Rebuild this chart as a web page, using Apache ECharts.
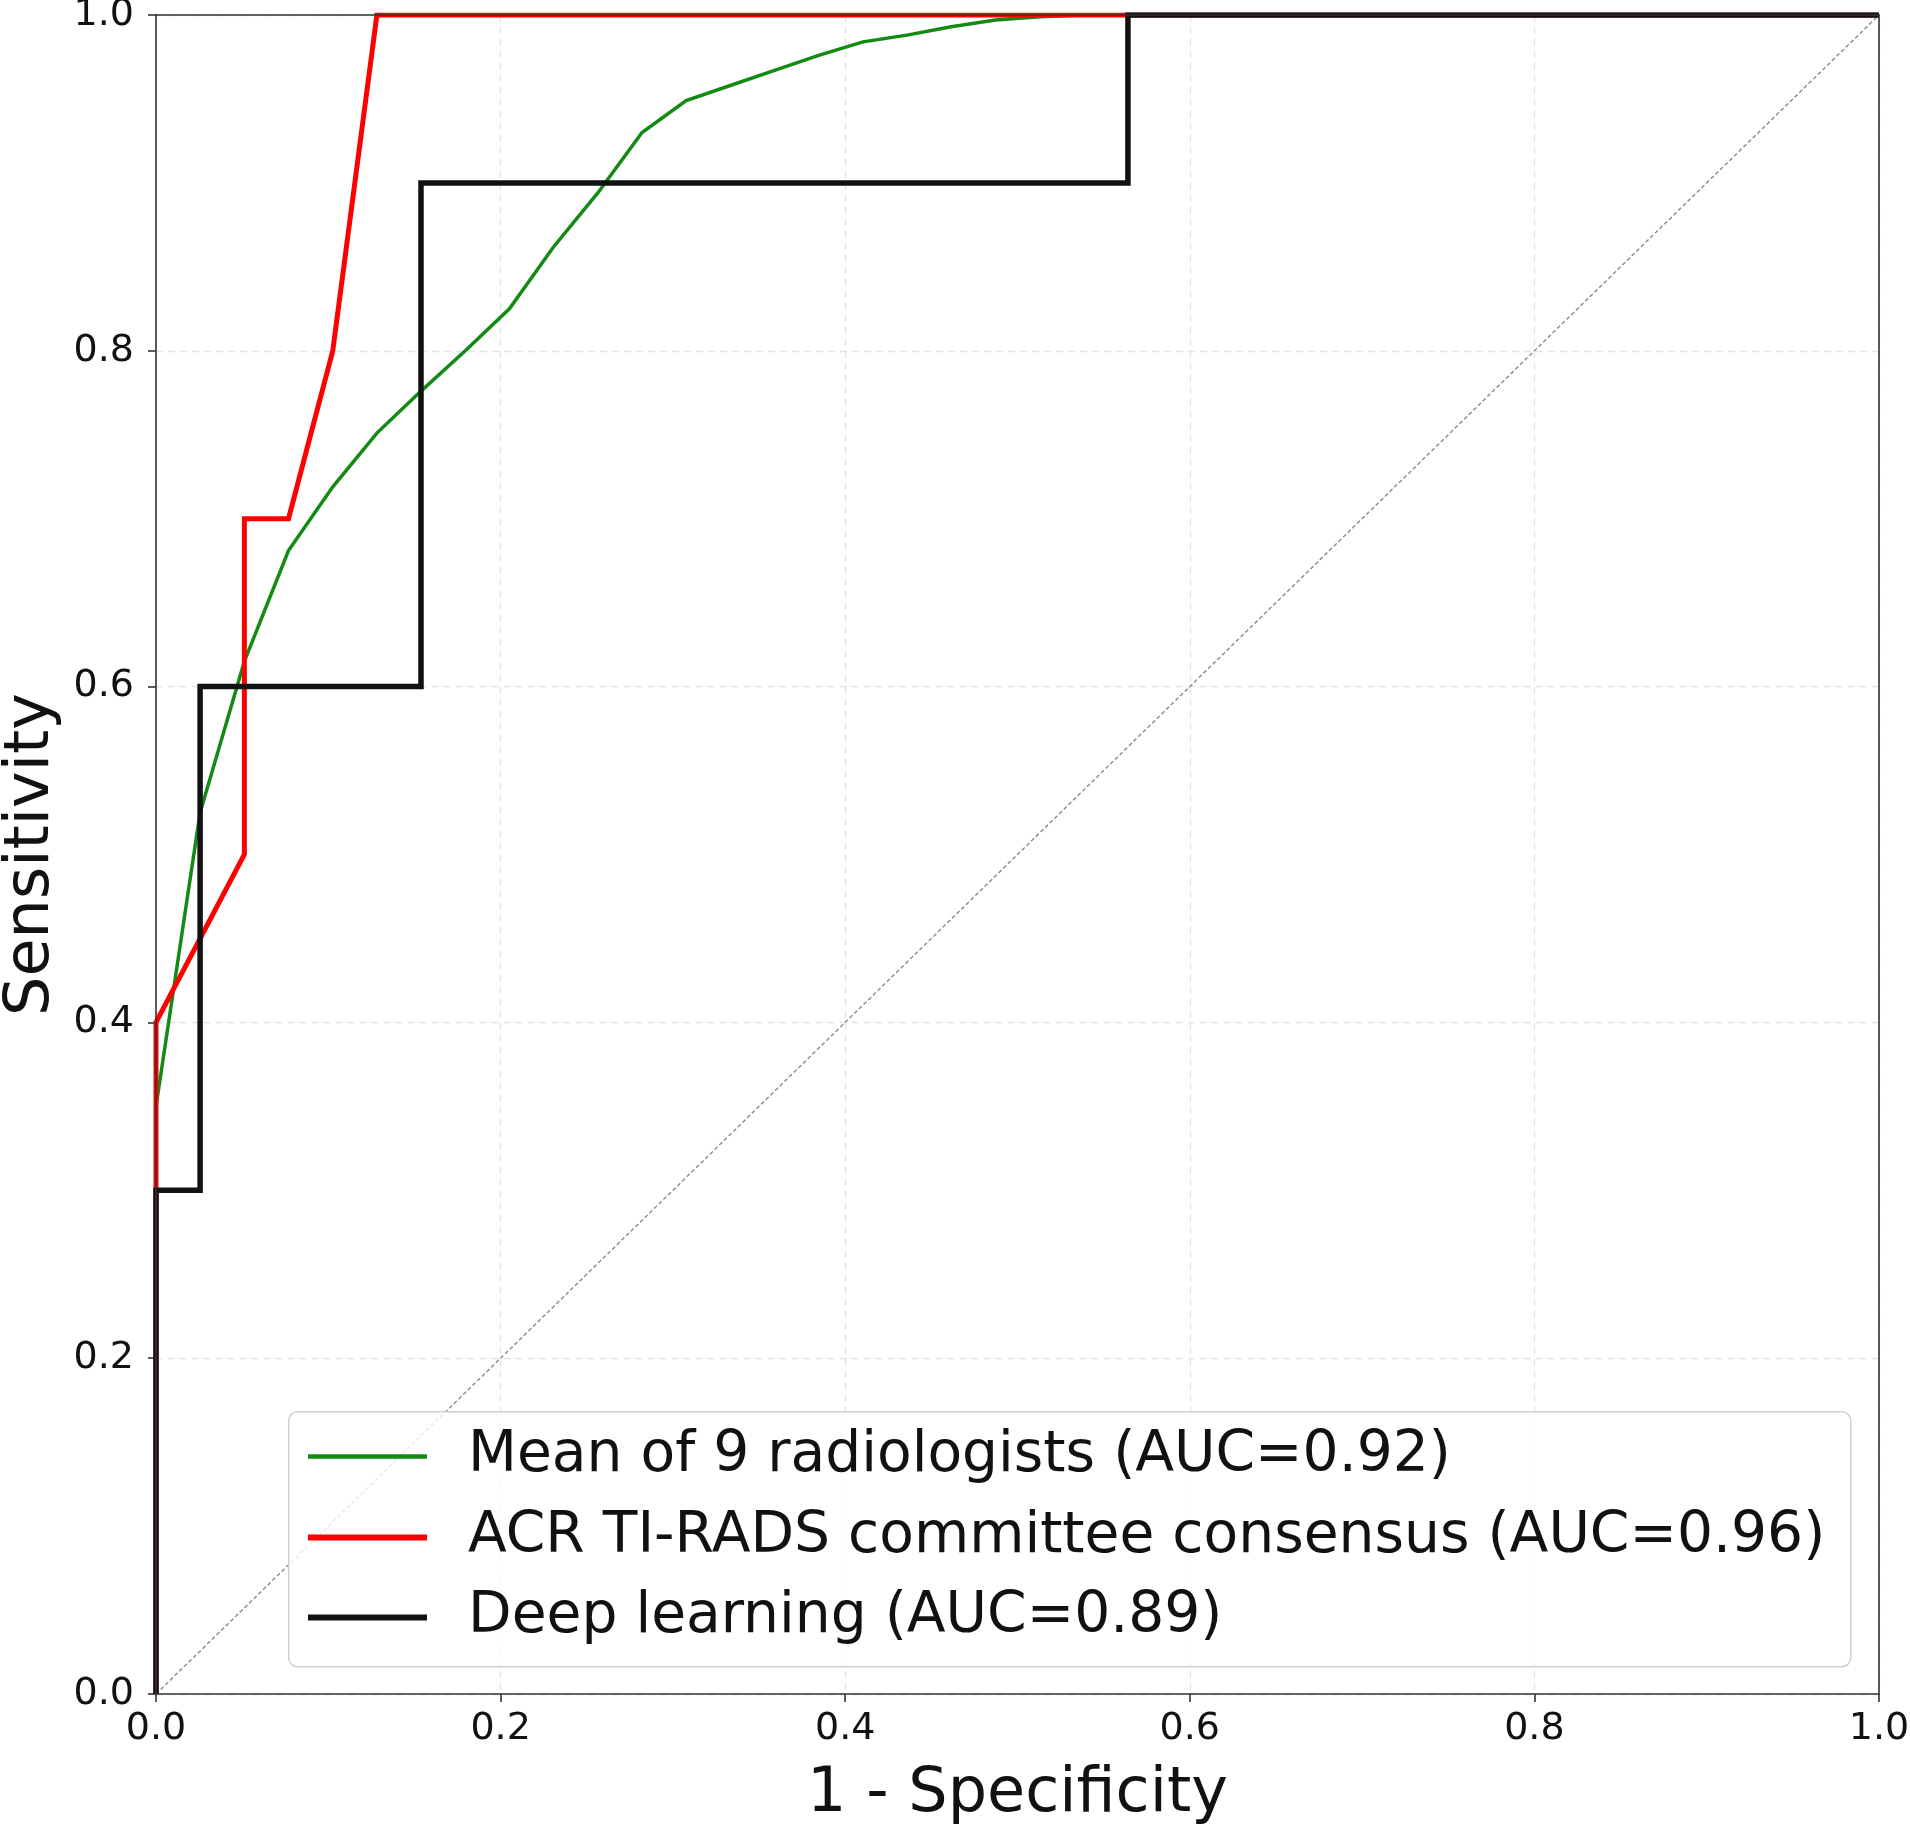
<!DOCTYPE html>
<html>
<head>
<meta charset="utf-8">
<script src="https://cdn.jsdelivr.net/npm/echarts@6/dist/echarts.min.js"></script>
<style>
html,body{margin:0;padding:0;background:#fff;}
#chart{width:1910px;height:1827px;}
</style>
</head>
<body>
<div id="chart"></div>
<script>
// ---- data ----
const seriesNames = [
  'Mean of 9 radiologists (AUC=0.92)',
  'ACR TI-RADS committee consensus (AUC=0.96)',
  'Deep learning (AUC=0.89)'
];
const fprMean = [0, 0, 0.0256, 0.0513, 0.0769, 0.1026, 0.1282, 0.1538, 0.1795, 0.2051, 0.2308, 0.2564, 0.2821, 0.3077, 0.3333, 0.3590, 0.3846, 0.4103, 0.4359, 0.4615, 0.4872, 0.5128, 0.5385, 1.0];
const tprMean = [0, 0.35, 0.525, 0.615, 0.681, 0.719, 0.751, 0.776, 0.800, 0.825, 0.862, 0.894, 0.930, 0.949, 0.958, 0.967, 0.976, 0.984, 0.988, 0.993, 0.997, 0.999, 1.0, 1.0];
const fprAcr = [0, 0, 0.0513, 0.0513, 0.0769, 0.1026, 0.1282, 1.0];
const tprAcr = [0, 0.4, 0.5, 0.7, 0.7, 0.8, 1.0, 1.0];
const fprDl = [0, 0, 0.0256, 0.0256, 0.1538, 0.1538, 0.5641, 0.5641, 1.0];
const tprDl = [0, 0.3, 0.3, 0.6, 0.6, 0.9, 0.9, 1.0, 1.0];
const chanceX = [0, 1];
const chanceY = [0, 1];

const zip = (xs, ys) => xs.map((x, i) => [x, ys[i]]);
const FONT = 'DejaVu Sans';
const colors = ['#138a13', '#ff0000', '#111111'];
const widths = [3.5, 5, 5.5];
const legendWidths = [4.5, 6, 6];

const chart = echarts.init(document.getElementById('chart'), null, {renderer: 'canvas'});
const axisCommon = {
  type: 'value', min: 0, max: 1, interval: 0.2,
  axisLine: {show: false},
  axisTick: {show: true, length: 8, inside: false, lineStyle: {color: '#333', width: 1.6}},
  splitLine: {show: true, lineStyle: {color: '#e3e3e3', width: 1.3, type: [7, 5]}},
  axisLabel: {
    show: true, color: '#111', fontFamily: FONT, fontSize: 38,
    showMinLabel: true, showMaxLabel: true,
    formatter: v => v.toFixed(1)
  },
  nameLocation: 'middle',
  nameTextStyle: {color: '#111', fontFamily: FONT, fontSize: 62}
};
const borderAxis = {
  type: 'value', min: 0, max: 1, interval: 0.2, z: 10,
  axisLine: {show: true, onZero: false, lineStyle: {color: '#333', width: 1.6}},
  axisTick: {show: false}, axisLabel: {show: false}, splitLine: {show: false}
};

const lineSeries = (i, xs, ys, z) => ({
  name: seriesNames[i], type: 'line', data: zip(xs, ys), symbol: 'none', z,
  lineStyle: {color: colors[i], width: widths[i], join: 'miter', cap: 'butt'},
  itemStyle: {color: colors[i]},
  emphasis: {disabled: true}
});

const legendRowTop = [1428, 1509, 1589];
const legends = seriesNames.map((n, i) => ({
  data: [{name: n, icon: 'rect'}],
  orient: 'vertical',
  left: 308, top: legendRowTop[i],
  itemWidth: 119, itemHeight: legendWidths[i], itemGap: 0,
  padding: 0,
  z: 12,
  textStyle: {color: '#111', fontFamily: FONT, fontSize: 56.7, padding: [0, 0, 0, 36]},
  selectedMode: false
}));

chart.setOption({
  animation: false,
  backgroundColor: '#ffffff',
  grid: {left: 156, right: 31, top: 15, bottom: 133, containLabel: false, outerBoundsMode: 'none'},
  xAxis: [
    Object.assign({}, axisCommon, {
      position: 'bottom', name: '1 - Specificity', nameGap: 70,
      axisLabel: Object.assign({}, axisCommon.axisLabel, {margin: 16})
    }),
    Object.assign({}, borderAxis, {position: 'top'}),
    Object.assign({}, borderAxis, {position: 'bottom'})
  ],
  yAxis: [
    Object.assign({}, axisCommon, {
      position: 'left', name: 'Sensitivity', nameGap: 93, nameRotate: 90,
      axisLabel: Object.assign({}, axisCommon.axisLabel, {margin: 22})
    }),
    Object.assign({}, borderAxis, {position: 'right'}),
    Object.assign({}, borderAxis, {position: 'left'})
  ],
  legend: legends,
  graphic: [{
    type: 'rect', left: 288, top: 1411, z: 11,
    shape: {width: 1562, height: 255, r: 9},
    style: {fill: 'rgba(255,255,255,0.8)', stroke: '#cfcfcf', lineWidth: 1.5},
    silent: true
  }],
  series: [
    {
      name: 'chance', type: 'line', data: zip(chanceX, chanceY), symbol: 'none', z: 1,
      lineStyle: {color: '#8a8a8a', width: 1.4, type: [4, 2.5]},
      emphasis: {disabled: true}, silent: true
    },
    lineSeries(0, fprMean, tprMean, 2),
    lineSeries(1, fprAcr, tprAcr, 3),
    lineSeries(2, fprDl, tprDl, 4)
  ]
});
</script>
</body>
</html>
